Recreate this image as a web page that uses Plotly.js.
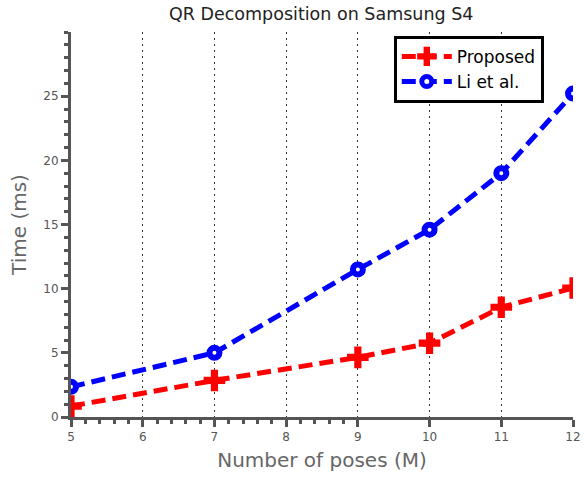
<!DOCTYPE html>
<html>
<head>
<meta charset="utf-8">
<script src="https://cdn.plot.ly/plotly-3.0.1.min.js"></script>
<style>html,body{margin:0;padding:0;background:#fff;}#chart{width:584px;height:478px;}</style>
</head>
<body>
<div id="chart"></div>
<script>
var poses = [5, 7, 9, 10, 11, 12];
var proposed = [0.85, 2.85, 4.65, 5.75, 8.55, 10.05];
var liEtAl = [2.35, 5.0, 11.5, 14.6, 19.0, 25.2];
var xTicks = [5, 6, 7, 8, 9, 10, 11, 12];
var yTicks = [0, 5, 10, 15, 20, 25];
var xMinor = [5.2, 5.4, 5.6, 5.8, 6.2, 6.4, 6.6, 6.8, 7.2, 7.4, 7.6, 7.8, 8.2, 8.4, 8.6, 8.8];

var font = "DejaVu Sans, Liberation Sans, sans-serif";
var axisColor = "#555555";

var traces = [
  {
    x: poses, y: proposed, name: "Proposed", type: "scatter", mode: "lines+markers",
    line: {color: "#ff0000", width: 5, dash: "14px,7px"},
    marker: {symbol: "cross", size: 18, color: "#ff0000"}
  },
  {
    x: poses, y: liEtAl, name: "Li et al.", type: "scatter", mode: "lines+markers",
    line: {color: "#0000ff", width: 5, dash: "14px,7px"},
    marker: {symbol: "circle", size: 10, color: "#ffffff", line: {color: "#0000ff", width: 6}}
  }
];

var layout = {
  width: 584, height: 478,
  margin: {l: 71, r: 11, t: 32, b: 61},
  paper_bgcolor: "#ffffff", plot_bgcolor: "#ffffff",
  font: {family: font, color: "#555555"},
  title: {text: "QR Decomposition on Samsung S4", font: {family: font, size: 17.5, color: "#222222"}, x: 0.55, xanchor: "center", y: 0.97, yanchor: "middle"},
  xaxis: {
    range: [5, 12], tickmode: "array", tickvals: xTicks, ticktext: xTicks.map(String),
    showline: true, linecolor: axisColor, linewidth: 3,
    ticks: "outside", ticklen: 7, tickwidth: 3, tickcolor: axisColor,
    showgrid: true, gridcolor: "#333333", gridwidth: 1, griddash: "2px,4px",
    zeroline: false,
    tickfont: {family: font, size: 12, color: "#555555"},
    minor: {tickmode: "array", tickvals: xMinor, ticks: "outside", ticklen: 4, tickwidth: 3, tickcolor: axisColor, showgrid: false},
    title: {text: "Number of poses (M)", font: {family: font, size: 20, color: "#666666"}, standoff: 10}
  },
  yaxis: {
    range: [0, 30], tickmode: "array", tickvals: yTicks, ticktext: yTicks.map(String),
    showline: true, linecolor: axisColor, linewidth: 3,
    ticks: "outside", ticklen: 7, tickwidth: 3, tickcolor: axisColor,
    showgrid: false, zeroline: false,
    tickfont: {family: font, size: 12, color: "#555555"},
    minor: {dtick: 1, tick0: 0, ticks: "outside", ticklen: 4, tickwidth: 3, tickcolor: axisColor, showgrid: false},
    title: {text: "Time (ms)", font: {family: font, size: 20, color: "#666666"}, standoff: 12}
  },
  legend: {
    x: 0.643, y: 0.99, xanchor: "left", yanchor: "top",
    bgcolor: "#ffffff", bordercolor: "#000000", borderwidth: 3,
    font: {family: font, size: 17, color: "#000000"},
    itemwidth: 50,
    tracegroupgap: 0
  },
  showlegend: true
};

Plotly.newPlot("chart", traces, layout, {displayModeBar: false, staticPlot: true});
</script>
</body>
</html>
